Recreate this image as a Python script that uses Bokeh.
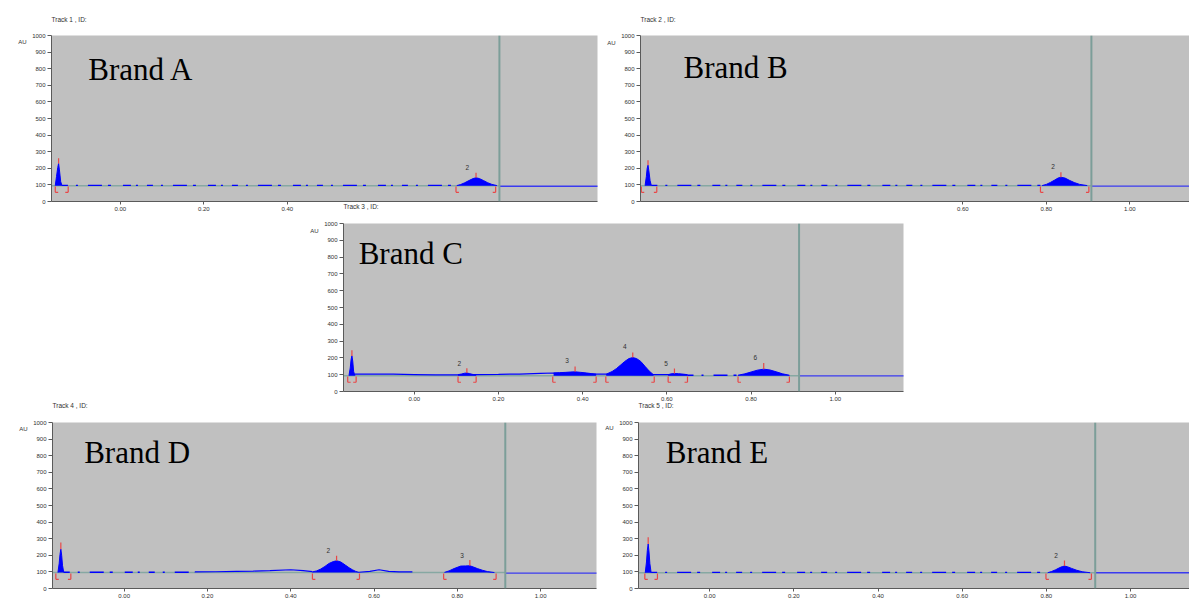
from bokeh.plotting import figure
from bokeh.models import Span, Spacer, FixedTicker, NumeralTickFormatter, ColumnDataSource, LinearAxis, Label
from bokeh.layouts import column, row
from bokeh.embed import file_html
from bokeh.resources import INLINE
from bokeh.core.properties import value

NAN = float("nan")

# ---------------- data ----------------
Y_TICKS = [0, 100, 200, 300, 400, 500, 600, 700, 800, 900, 1000]
X_TICKS = [0.0, 0.2, 0.4, 0.6, 0.8, 1.0]
A_XTICKS = [0.0, 0.2, 0.4]      # visible part of track 1 axis (rest hidden by track 3)
B_XTICKS = [0.6, 0.8, 1.0]      # visible part of track 2 axis
Y_UNIT = "AU"

# Track 1 / Brand A
A_track, A_brand = "Track 1 , ID:", "Brand A"
A_front, A_base = 0.908, 95
A_noise_x, A_noise_y = [-0.140, 0.806], [97, 97]
A_sig_x, A_sig_y = [], []
A_tail_x, A_tail_y = [0.908, 1.20], [92, 92]
A_peak_x = [[-0.156, -0.153, -0.150, -0.148, -0.146, -0.143, -0.140],
            [0.806, 0.815, 0.825, 0.835, 0.845, 0.852, 0.860, 0.870, 0.880, 0.890, 0.902]]
A_peak_y = [[96, 150, 205, 229, 190, 120, 96],
            [96, 102, 113, 126, 138, 143, 138, 126, 113, 103, 96]]
A_apex_x, A_apex_y, A_mark_y = [-0.148, 0.852], [229, 143], [260, 173]
A_ids, A_id_x, A_id_y = ["2"], [0.831], [207]
A_br_l, A_br_r = [-0.156, 0.804], [-0.125, 0.899]

# Track 2 / Brand B
B_track, B_brand = "Track 2 , ID:", "Brand B"
B_front, B_base = 0.908, 95
B_noise_x, B_noise_y = [-0.146, 0.790], [97, 97]
B_sig_x, B_sig_y = [], []
B_tail_x, B_tail_y = [0.908, 1.20], [93, 93]
B_peak_x = [[-0.161, -0.158, -0.156, -0.154, -0.152, -0.149, -0.146],
            [0.790, 0.800, 0.810, 0.820, 0.828, 0.835, 0.845, 0.855, 0.867, 0.880, 0.898]]
B_peak_y = [[96, 150, 200, 219, 185, 125, 96],
            [96, 103, 115, 129, 141, 146, 141, 128, 114, 103, 96]]
B_apex_x, B_apex_y, B_mark_y = [-0.154, 0.835], [219, 146], [249, 176]
B_ids, B_id_x, B_id_y = ["2"], [0.816], [209]
B_br_l, B_br_r = [-0.170, 0.786], [-0.133, 0.902]

# Track 3 / Brand C
C_track, C_brand = "Track 3 , ID:", "Brand C"
C_front, C_base = 0.914, 94
C_noise_x, C_noise_y = [0.649, 0.769], [97, 97]
C_sig_x = [-0.141, -0.10, -0.05, 0.00, 0.05, 0.10, 0.147, 0.20, 0.25, 0.30, 0.331,
           0.432, 0.456, 0.568, 0.603, 0.649]
C_sig_y = [103, 104, 103, 101, 99, 99, 101, 102, 104, 108, 110,
           103, 103, 100, 100, 99]
C_tail_x, C_tail_y = [0.914, 1.20], [93, 93]
C_peak_x = [[-0.155, -0.152, -0.150, -0.148, -0.146, -0.144, -0.141],
            [0.104, 0.112, 0.120, 0.125, 0.132, 0.140, 0.147],
            [0.331, 0.345, 0.360, 0.372, 0.382, 0.395, 0.410, 0.422, 0.432],
            [0.456, 0.470, 0.480, 0.490, 0.500, 0.510, 0.519, 0.528, 0.538, 0.548, 0.558, 0.568],
            [0.603, 0.610, 0.618, 0.628, 0.640, 0.649],
            [0.769, 0.785, 0.800, 0.815, 0.830, 0.845, 0.860, 0.875, 0.891]]
C_peak_y = [[95, 140, 190, 212, 180, 120, 95],
            [100, 104, 109, 110, 106, 101, 99],
            [110, 112, 114, 116, 117, 114, 110, 106, 103],
            [103, 119, 136, 157, 179, 196, 202, 196, 179, 150, 122, 100],
            [100, 105, 107, 106, 103, 100],
            [97, 105, 116, 127, 133, 128, 117, 105, 97]]
C_apex_x = [-0.148, 0.125, 0.382, 0.519, 0.618, 0.830]
C_apex_y = [212, 110, 117, 202, 107, 133]
C_mark_y = [246, 139, 149, 232, 137, 169]
C_ids = ["2", "3", "4", "5", "6"]
C_id_x = [0.107, 0.363, 0.500, 0.598, 0.810]
C_id_y = [169, 183, 268, 169, 202]
C_br_l = [-0.158, 0.104, 0.329, 0.455, 0.603, 0.769]
C_br_r = [-0.138, 0.147, 0.432, 0.570, 0.649, 0.891]

# Track 4 / Brand D
D_track, D_brand = "Track 4 , ID:", "Brand D"
D_front, D_base = 0.915, 96
D_noise_x, D_noise_y = [-0.145, 0.17], [98, 98]
D_sig_x = [0.17, 0.22, 0.27, 0.31, 0.35, 0.40, 0.43, 0.452, NAN,
           0.564, 0.59, 0.612, 0.635, 0.66, 0.692]
D_sig_y = [100, 101, 103, 105, 108, 113, 108, 102, NAN,
           98, 103, 113, 103, 100, 100]
D_tail_x, D_tail_y = [0.915, 1.20], [93, 93]
D_peak_x = [[-0.159, -0.156, -0.154, -0.152, -0.150, -0.148, -0.145],
            [0.452, 0.462, 0.472, 0.482, 0.492, 0.502, 0.510, 0.520, 0.531, 0.540, 0.548, 0.556, 0.564],
            [0.769, 0.780, 0.792, 0.808, 0.820, 0.830, 0.840, 0.848, 0.860, 0.872, 0.889]]
D_peak_y = [[96, 150, 205, 237, 200, 140, 96],
            [100, 106, 117, 133, 151, 162, 167, 160, 141, 125, 113, 103, 97],
            [97, 106, 120, 135, 136, 137, 128, 120, 110, 102, 96]]
D_apex_x, D_apex_y, D_mark_y = [-0.152, 0.510, 0.830], [237, 167, 137], [277, 197, 171]
D_ids, D_id_x, D_id_y = ["2", "3"], [0.490, 0.811], [231, 201]
D_br_l, D_br_r = [-0.164, 0.452, 0.767], [-0.128, 0.565, 0.893]

# Track 5 / Brand E
E_track, E_brand = "Track 5 , ID:", "Brand E"
E_front, E_base = 0.916, 95
E_noise_x, E_noise_y = [-0.139, 0.803], [97, 97]
E_sig_x, E_sig_y = [], []
E_tail_x, E_tail_y = [0.916, 1.20], [95, 95]
E_peak_x = [[-0.153, -0.150, -0.148, -0.146, -0.144, -0.142, -0.139],
            [0.803, 0.812, 0.822, 0.832, 0.838, 0.843, 0.850, 0.860, 0.872, 0.885, 0.904]]
E_peak_y = [[95, 160, 230, 268, 220, 150, 95],
            [95, 102, 113, 126, 132, 135, 131, 121, 110, 101, 95]]
E_apex_x, E_apex_y, E_mark_y = [-0.146, 0.843], [268, 135], [308, 168]
E_ids, E_id_x, E_id_y = ["2"], [0.823], [198]
E_br_l, E_br_r = [-0.154, 0.799], [-0.124, 0.907]

# ---------------- styling ----------------
BLUE = "#0000FF"
RED = "#E84848"
TEAL = "#86A8A2"
FRONTC = "#7C9E99"
BG = "#C0C0C0"
AXC = "#5A5A5A"
TXT = "#303030"
SANS = "Liberation Sans"
SERIF = "Liberation Serif"
BR_TOP, BR_BOT, FOOT = 90, 55, 0.007
DASH = "6 8 2 10 14 6 3 12 8 5 2 9"


def panel(w, h, ml, mr, mt, mb, xr, standoff, au_y, track, brand, brand_xy,
          front, base, noise_x, noise_y, sig_x, sig_y, tail_x, tail_y,
          peak_x, peak_y, apex_x, apex_y, mark_y, ids, id_x, id_y, br_l, br_r,
          xticks=X_TICKS, border="white"):
    p = figure(width=w, height=h, x_range=xr, y_range=(0, 1000),
               output_backend="svg", toolbar_location=None, title=track,
               min_border_left=ml, min_border_right=mr, min_border_top=mt,
               min_border_bottom=mb)
    p.title.text_font = SANS
    p.title.text_font_size = "6.5px"
    p.title.text_font_style = "normal"
    p.title.text_color = TXT
    p.title.align = "left"
    p.title.standoff = standoff
    p.background_fill_color = BG
    p.border_fill_color = border
    p.outline_line_color = None
    p.grid.visible = False

    p.xaxis.ticker = FixedTicker(ticks=xticks)
    p.xaxis.formatter = NumeralTickFormatter(format="0.00")
    p.yaxis.ticker = FixedTicker(ticks=Y_TICKS)
    for ax in (p.xaxis[0], p.yaxis[0]):
        ax.axis_line_color = AXC
        ax.major_tick_line_color = AXC
        ax.minor_tick_line_color = None
        ax.major_tick_in = 0
        ax.major_label_text_font = SANS
        ax.major_label_text_font_size = "6px"
        ax.major_label_text_color = TXT
        ax.major_label_standoff = 2
    p.xaxis.major_tick_out = 3
    p.yaxis.major_tick_out = 4

    # unit label "AU" at the top of the y axis (extra label-only axis)
    au = LinearAxis(ticker=FixedTicker(ticks=[au_y]), major_label_overrides={au_y: Y_UNIT},
                    axis_line_color=None, major_tick_line_color=None,
                    minor_tick_line_color=None, major_label_text_font=SANS,
                    major_label_text_font_size="6px", major_label_text_color=TXT,
                    major_label_standoff=3, major_tick_out=0, major_tick_in=0)
    p.add_layout(au, "left")

    # integration baseline and signal
    p.line([xr[0], front], [base, base], line_color=TEAL, line_width=1.5)
    p.line(noise_x, noise_y, line_color=BLUE, line_width=1.4, line_dash=DASH)
    if sig_x:
        p.line(sig_x, sig_y, line_color=BLUE, line_width=1.2)
    p.line(tail_x, tail_y, line_color="#3A3AF0", line_width=1.3)

    # peaks
    for xs, ys in zip(peak_x, peak_y):
        p.varea(x=xs, y1=[base] * len(xs), y2=ys, fill_color=BLUE)
        p.line(xs, ys, line_color=BLUE, line_width=1)

    # apex marks
    p.segment(x0=apex_x, y0=apex_y, x1=apex_x, y1=mark_y, line_color=RED, line_width=1.2)
    # integration brackets
    n = len(br_l)
    p.segment(x0=br_l, y0=[BR_TOP] * n, x1=br_l, y1=[BR_BOT] * n, line_color=RED, line_width=1.2)
    p.segment(x0=br_l, y0=[BR_BOT] * n, x1=[b + FOOT for b in br_l], y1=[BR_BOT] * n,
              line_color=RED, line_width=1.2)
    p.segment(x0=br_r, y0=[BR_TOP] * n, x1=br_r, y1=[BR_BOT] * n, line_color=RED, line_width=1.2)
    p.segment(x0=br_r, y0=[BR_BOT] * n, x1=[b - FOOT for b in br_r], y1=[BR_BOT] * n,
              line_color=RED, line_width=1.2)

    # solvent front
    p.add_layout(Span(location=front, dimension="height", line_color=FRONTC, line_width=2))

    # peak ids
    src = ColumnDataSource(dict(x=id_x, y=id_y, t=ids))
    p.text(x="x", y="y", text="t", source=src, text_font=value(SANS),
           text_font_size="6.5px", text_color=TXT, text_align="center",
           text_baseline="middle")

    p.add_layout(Label(x=brand_xy[0], y=brand_xy[1], text=brand, text_font=SERIF,
                       text_font_size="31px", text_color="black",
                       text_baseline="alphabetic", y_offset=12))
    return p


pA = panel(600, 214, 51, 3, 35, 13, (-0.165, 1.143), 25, 958, A_track, A_brand, (-0.077, 723),
           A_front, A_base, A_noise_x, A_noise_y, A_sig_x, A_sig_y,
           A_tail_x, A_tail_y, A_peak_x, A_peak_y, A_apex_x, A_apex_y, A_mark_y,
           A_ids, A_id_x, A_id_y, A_br_l, A_br_r, xticks=A_XTICKS)
pB = panel(589, 214, 40, 0, 35, 13, (-0.172, 1.143), 25, 954, B_track, B_brand, (-0.069, 733),
           B_front, B_base, B_noise_x, B_noise_y, B_sig_x, B_sig_y,
           B_tail_x, B_tail_y, B_peak_x, B_peak_y, B_apex_x, B_apex_y, B_mark_y,
           B_ids, B_id_x, B_id_y, B_br_l, B_br_r, xticks=B_XTICKS)
pC = panel(610, 218, 43, 7, 37, 13, (-0.168, 1.162), 27, 957, C_track, C_brand, (-0.132, 752),
           C_front, C_base, C_noise_x, C_noise_y, C_sig_x, C_sig_y,
           C_tail_x, C_tail_y, C_peak_x, C_peak_y, C_apex_x, C_apex_y, C_mark_y,
           C_ids, C_id_x, C_id_y, C_br_l, C_br_r, border=None)
pD = panel(597, 217, 52, 1, 37, 14, (-0.172, 1.134), 27, 962, D_track, D_brand, (-0.096, 745),
           D_front, D_base, D_noise_x, D_noise_y, D_sig_x, D_sig_y,
           D_tail_x, D_tail_y, D_peak_x, D_peak_y, D_apex_x, D_apex_y, D_mark_y,
           D_ids, D_id_x, D_id_y, D_br_l, D_br_r, border=None)
pE = panel(592, 217, 41, 0, 37, 14, (-0.169, 1.140), 27, 964, E_track, E_brand, (-0.104, 750),
           E_front, E_base, E_noise_x, E_noise_y, E_sig_x, E_sig_y,
           E_tail_x, E_tail_y, E_peak_x, E_peak_y, E_apex_x, E_apex_y, E_mark_y,
           E_ids, E_id_x, E_id_y, E_br_l, E_br_r, border=None)

row1 = row(pA, pB)
row2 = row(Spacer(width=300, height=218), pC, margin=(-28, 0, 0, 0))
row3 = row(pD, pE, margin=(-19, 0, 0, 0))
layout = column(row1, row2, row3)

open("out.html", "w").write(file_html(layout, INLINE))
